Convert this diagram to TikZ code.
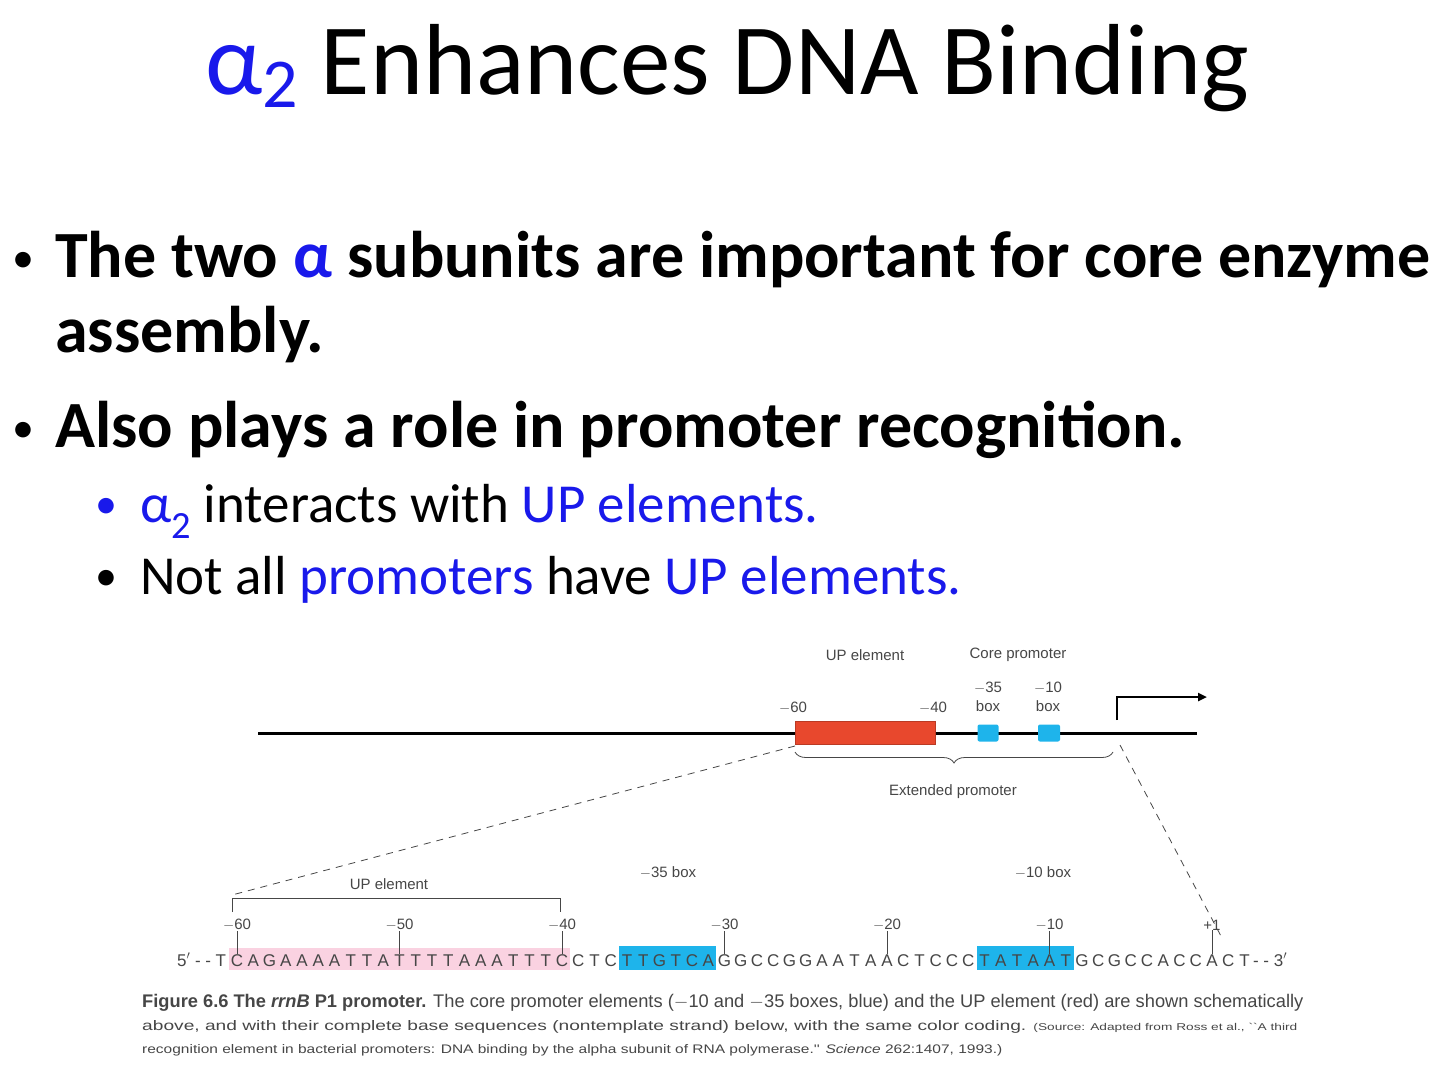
\documentclass[tikz,border=0pt]{standalone}
\usepackage{fontspec}
\setmainfont{Carlito}
\newfontfamily\figfont{Liberation Sans}
\usetikzlibrary{decorations.pathreplacing,arrows.meta}
\definecolor{ppblue}{RGB}{25,25,235}
\definecolor{boxblue}{RGB}{30,180,235}
\definecolor{upred}{RGB}{232,72,45}
\definecolor{uppink}{RGB}{250,210,225}
\definecolor{figgray}{RGB}{70,70,70}
\begin{document}
\begin{tikzpicture}[x=1pt,y=-1pt,
  title/.style={anchor=base west,font=\fontsize{101}{110}\selectfont,inner sep=0},
  body/.style={anchor=base west,font=\fontsize{66}{70}\selectfont\bfseries,inner sep=0},
  bul/.style={anchor=base west,font=\fontsize{44}{50}\selectfont,inner sep=0},
  sub/.style={anchor=base west,font=\fontsize{55}{60}\selectfont,inner sep=0},
  fig/.style={font=\figfont\fontsize{15}{17}\selectfont,text=figgray,inner sep=0},
  seq/.style={font=\figfont\fontsize{17}{19}\selectfont,text=figgray,inner sep=0,anchor=base},
  capt/.style={anchor=base west,font=\figfont\fontsize{14}{14}\selectfont,text=figgray,inner sep=0}]
\useasboundingbox (0,0) rectangle (1440,1065);
% title
\node[title] (t) at (205,95) {\textcolor{ppblue}{α\raisebox{-0.12em}{\fontsize{70}{70}\selectfont 2}} Enhances DNA Binding};
% bullets
\node[bul] (b1) at (12,272) {•};
\node[body] (l1) at (55,277) {The two \textcolor{ppblue}{α} subunits are important for core enzyme};
\node[body] (l2) at (55,352) {assembly.};
\node[bul] (b2) at (12,442) {•};
\node[body] (l3) at (55,447) {Also plays a role in promoter recognition.};
\node[bul,text=ppblue] (s1b) at (95,518) {•};
\node[sub] (s1) at (140,522) {\textcolor{ppblue}{α\textsubscript{2}} interacts with \textcolor{ppblue}{UP elements.}};
\node[bul] (s2b) at (95,590) {•};
\node[sub] (s2) at (140,594) {Not all \textcolor{ppblue}{promoters} have \textcolor{ppblue}{UP elements.}};
% top schematic
\coordinate (ls) at (258,733); \coordinate (le) at (1197,733);
\draw[line width=3pt] (ls) -- (le);
\node[fill=upred,draw=upred!80!black,minimum width=140pt,minimum height=23pt,inner sep=0] (red) at (865,733) {};
\node[fill=boxblue,minimum width=21pt,minimum height=17pt,inner sep=0,rounded corners=2pt] (bx35) at (988,733) {};
\node[fill=boxblue,minimum width=22pt,minimum height=17pt,inner sep=0,rounded corners=2pt] (bx10) at (1049,733) {};
\node[fig] (up1) at (865,655) {UP element};
\node[fig] (cp) at (1018,655) {Core promoter};
\node[fig] (m60) at (793,708) {$-$60};
\node[fig] (m40) at (933,708) {$-$40};
\node[fig,align=center] (l35) at (988,697) {$-$35\\[2pt]box};
\node[fig,align=center] (l10) at (1048,697) {$-$10\\[2pt]box};
\coordinate (tss) at (1117,720);
\coordinate (tssup) at (1117,697);
\coordinate (tssend) at (1207,697);
\draw[line width=2.5pt,-{Triangle[length=9pt,width=8pt]}] (tss) -- (tssup) -- (tssend);
\coordinate (bs) at (795,752); \coordinate (be) at (1113,752);
\draw[figgray,thick,decorate,decoration={brace,mirror,amplitude=11pt}] (bs) -- (be);
\node[fig] (ext) at (953,792) {Extended promoter};
% dashed zoom lines
\coordinate (d1a) at (795,746); \coordinate (d1b) at (232,895);
\coordinate (d2a) at (1120,745); \coordinate (d2b) at (1222,938);
\draw[figgray,thick,dash pattern=on 7pt off 6pt] (d1a) -- (d1b);
\draw[figgray,thick,dash pattern=on 7pt off 6pt] (d2a) -- (d2b);
% lower bracket
\coordinate (ub1) at (232,912); \coordinate (ub2) at (232,898);
\coordinate (ub3) at (560,898); \coordinate (ub4) at (560,912);
\draw[figgray,thick] (ub1) -- (ub2) -- (ub3) -- (ub4);
\node[fig] (up2) at (389,884) {UP element};
\node[fig] (b35) at (668,873) {$-$35 box};
\node[fig] (b10) at (1043,873) {$-$10 box};
% sequence
\def\sx{237}\def\ss{16.25}
\fill[uppink] ({\sx-8},948) rectangle ({\sx+20*\ss+8},970);
\fill[boxblue] ({\sx+24*\ss-8},946) rectangle ({\sx+29*\ss+8},970);
\fill[boxblue] ({\sx+46*\ss-8},946) rectangle ({\sx+51*\ss+8},970);
\foreach \c [count=\i from 0] in {T,C,A,G,A,A,A,A,T,T,A,T,T,T,T,A,A,A,T,T,T,C,C,T,C,T,T,G,T,C,A,G,G,C,C,G,G,A,A,T,A,A,C,T,C,C,C,T,A,T,A,A,T,G,C,G,C,C,A,C,C,A,C,T}
  \node[seq] (q\i) at ({\sx+(\i-1)*\ss},966) {\c};
\node[seq,anchor=base east] (p5) at ([xshift=-4pt]q0.base west) {5$'$ - -};
\node[seq,anchor=base west] (p3) at ([xshift=3pt]q63.base east) {- - 3$'$};
\foreach \i/\l in {1/$-$60,11/$-$50,21/$-$40,31/$-$30,41/$-$20,51/$-$10,61/+1}{
  \node[fig] (k\i) at ({\sx+(\i-1)*\ss},925) {\l};
  \draw[figgray,thick] (k\i.south) -- (q\i.north);
}
% caption
\node[capt] (c1) at (142,1007) {\resizebox{1161pt}{!}{\textbf{Figure 6.6 The \textit{rrnB} P1 promoter.} The core promoter elements ($-$10 and $-$35 boxes, blue) and the UP element (red) are shown schematically}};
\node[capt] (c2) at (142,1030) {\resizebox{1155pt}{10pt}{above, and with their complete base sequences (nontemplate strand) below, with the same color coding. {\fontsize{10}{12}\selectfont (Source: Adapted from Ross et al., ``A third}}};
\node[capt] (c3) at (142,1053) {\resizebox{860pt}{9pt}{\fontsize{10}{12}\selectfont recognition element in bacterial promoters: DNA binding by the alpha subunit of RNA polymerase.'' \textit{Science} 262:1407, 1993.)}};
\end{tikzpicture}
\end{document}
